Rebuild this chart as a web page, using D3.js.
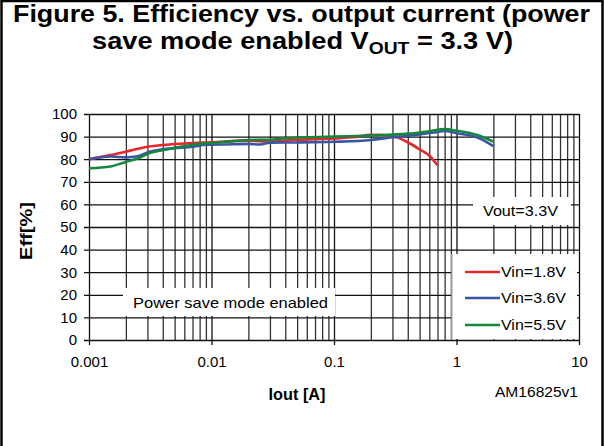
<!DOCTYPE html>
<html>
<head>
<meta charset="utf-8">
<script src="https://cdn.jsdelivr.net/npm/d3@7"></script>
<style>
  body { margin: 0; background: #fff; }
  svg { display: block; font-family: "Liberation Sans", Arial, sans-serif; }
</style>
</head>
<body>
<div id="chart"></div>
<script>
const width = 604, height = 446;

// data (Iout in A, efficiency in %)
const iout18 = [0.001, 0.0015, 0.002, 0.003, 0.004, 0.005, 0.007, 0.01, 0.02, 0.03, 0.05, 0.1, 0.15, 0.2, 0.3, 0.4, 0.5, 0.6, 0.7]
const eff18  = [80, 81.8, 83.3, 85.5, 86.3, 86.7, 87.2, 87.5, 88.2, 87.8, 88.6, 89.2, 89.8, 90.8, 90.3, 87.5, 84.3, 81.5, 77.3]

const iout36 = [0.001, 0.0015, 0.002, 0.0025, 0.003, 0.004, 0.005, 0.007, 0.009, 0.015, 0.02, 0.025, 0.03, 0.05, 0.1, 0.2, 0.3, 0.5, 0.7, 0.8, 1.0, 1.5, 2.0]
const eff36  = [80, 81.2, 80.8, 81.3, 83, 84.4, 84.9, 85.5, 86.4, 86.6, 86.8, 86.5, 87.3, 87.4, 87.7, 88.5, 89.7, 91, 92, 92.5, 91.5, 89.5, 85.8]

const iout55 = [0.001, 0.0015, 0.002, 0.0025, 0.003, 0.004, 0.005, 0.007, 0.01, 0.015, 0.02, 0.03, 0.04, 0.1, 0.2, 0.4, 0.6, 0.8, 1.0, 1.5, 2.0]
const eff55  = [76, 76.8, 78.8, 80.3, 82.3, 84, 85, 86.4, 87.2, 88, 88.5, 88.6, 89.3, 90, 90.5, 91.3, 92.4, 93.3, 92.6, 90.6, 87.8]

const seriesNames = ['Vin=1.8V', 'Vin=3.6V', 'Vin=5.5V']
const seriesColors = ['#e8262b', '#3b55a6', '#15873d']
const xTickLabels = ['0.001', '0.01', '0.1', '1', '10']
const yTicks = [0, 10, 20, 30, 40, 50, 60, 70, 80, 90, 100]

const series = [
  {name: seriesNames[0], color: seriesColors[0], pts: iout18.map((x, i) => [x, eff18[i]])},
  {name: seriesNames[1], color: seriesColors[1], pts: iout36.map((x, i) => [x, eff36[i]])},
  {name: seriesNames[2], color: seriesColors[2], pts: iout55.map((x, i) => [x, eff55[i]])}
]

const svg = d3.select('#chart').append('svg')
  .attr('width', width)
  .attr('height', height)

// outer frame
svg.append('path')
  .attr('d', `M1.5,${height} L1.5,1 L602.5,1 L602.5,${height}`)
  .attr('fill', 'none')
  .attr('stroke', '#000')
  .attr('stroke-width', 2.5)

// title
const title = svg.append('g').attr('font-weight', 'bold').attr('fill', '#000').attr('text-anchor', 'middle')
title.append('text')
  .attr('x', 301.5).attr('y', 22)
  .attr('font-size', 24)
  .attr('textLength', 577).attr('lengthAdjust', 'spacingAndGlyphs')
  .text('Figure 5. Efficiency vs. output current (power')
const t2 = title.append('text')
  .attr('x', 302.5).attr('y', 49)
  .attr('font-size', 24)
  .attr('textLength', 421).attr('lengthAdjust', 'spacingAndGlyphs')
t2.append('tspan').text('save mode enabled V')
t2.append('tspan').attr('font-size', 17).attr('dy', 5).text('OUT')
t2.append('tspan').attr('dy', -5).text(' = 3.3 V)')

const x = d3.scaleLog().domain([0.001, 10]).range([89, 579])
const y = d3.scaleLinear().domain([0, 100]).range([340, 114])

const grid = svg.append('g')

// vertical grid (log decades + minor)
const allTicks = x.ticks()
grid.append('g')
  .attr('transform', `translate(0,${y(0)})`)
  .call(d3.axisBottom(x).tickValues(allTicks).tickSize(0).tickFormat(''))
  .call(g => g.select('.domain').remove())
  .call(g => g.selectAll('.tick line')
    .attr('y1', d => Number.isInteger(Math.log10(d)) ? 5 : 0)
    .attr('y2', y(100) - y(0))
    .attr('stroke', d => Number.isInteger(Math.log10(d)) ? '#111' : '#333')
    .attr('stroke-width', 1.3))

// horizontal grid
grid.append('g')
  .attr('transform', `translate(${x(0.001)},0)`)
  .call(d3.axisLeft(y).tickValues(yTicks).tickSize(0).tickFormat(''))
  .call(g => g.select('.domain').remove())
  .call(g => g.selectAll('.tick line')
    .attr('x1', -5)
    .attr('x2', x(10) - x(0.001))
    .attr('stroke', '#111')
    .attr('stroke-width', 1.3))

// y tick labels
svg.append('g')
  .attr('transform', `translate(${x(0.001)},0)`)
  .call(d3.axisLeft(y).tickValues(yTicks).tickSize(0).tickPadding(12).tickFormat(d3.format('d')))
  .call(g => g.select('.domain').remove())
  .call(g => g.selectAll('text').attr('font-size', 15).attr('font-family', null).attr('fill', '#000'))

// x tick labels
svg.append('g')
  .attr('transform', `translate(0,${y(0)})`)
  .call(d3.axisBottom(x).tickValues([0.001, 0.01, 0.1, 1, 10]).tickSize(0).tickPadding(16)
    .tickFormat((d, i) => xTickLabels[i]))
  .call(g => g.select('.domain').remove())
  .call(g => g.selectAll('text').attr('font-size', 15).attr('font-family', null).attr('fill', '#000'))

// curves
const line = d3.line().x(d => x(d[0])).y(d => y(d[1])).curve(d3.curveMonotoneX)
svg.append('g').selectAll('path')
  .data(series)
  .join('path')
  .attr('d', d => line(d.pts))
  .attr('fill', 'none')
  .attr('stroke', d => d.color)
  .attr('stroke-width', 2.6)
  .attr('stroke-linejoin', 'round')

// Vout box
svg.append('rect').attr('x', 473).attr('y', 197).attr('width', 98).attr('height', 28).attr('fill', '#fff')
svg.append('text').attr('x', 483).attr('y', 216).attr('font-size', 15)
  .attr('textLength', 75).attr('lengthAdjust', 'spacingAndGlyphs').text('Vout=3.3V')

// power save box
svg.append('rect').attr('x', 123).attr('y', 288).attr('width', 212).attr('height', 28).attr('fill', '#fff')
svg.append('text').attr('x', 133).attr('y', 308).attr('font-size', 15)
  .attr('textLength', 195).attr('lengthAdjust', 'spacingAndGlyphs').text('Power save mode enabled')

// legend
const legend = svg.append('g')
legend.append('rect').attr('x', 452).attr('y', 254).attr('width', 125).attr('height', 85).attr('fill', '#fff')
legend.append('line').attr('x1', 452).attr('x2', 452).attr('y1', 254).attr('y2', 340)
  .attr('stroke', '#bbb').attr('stroke-width', 1.5)
const legRows = [272, 298, 325]
const li = legend.selectAll('g.item').data(series).join('g').attr('class', 'item')
  .attr('transform', (d, i) => `translate(0,${legRows[i]})`)
li.append('line').attr('x1', 465).attr('x2', 500).attr('stroke', d => d.color).attr('stroke-width', 2.6)
li.append('text').attr('x', 501).attr('y', 5).attr('font-size', 15)
  .attr('textLength', 65).attr('lengthAdjust', 'spacingAndGlyphs').text(d => d.name)

// axis titles
svg.append('text').attr('x', 297).attr('y', 400).attr('text-anchor', 'middle')
  .attr('font-size', 17).attr('font-weight', 'bold')
  .attr('textLength', 57).attr('lengthAdjust', 'spacingAndGlyphs').text('Iout [A]')
svg.append('text').attr('transform', 'translate(32,231) rotate(-90)').attr('text-anchor', 'middle')
  .attr('font-size', 16).attr('font-weight', 'bold')
  .attr('textLength', 58).attr('lengthAdjust', 'spacingAndGlyphs').text('Eff[%]')
svg.append('text').attr('x', 495).attr('y', 397).attr('font-size', 14)
  .attr('textLength', 83).attr('lengthAdjust', 'spacingAndGlyphs').text('AM16825v1')
</script>
</body>
</html>
